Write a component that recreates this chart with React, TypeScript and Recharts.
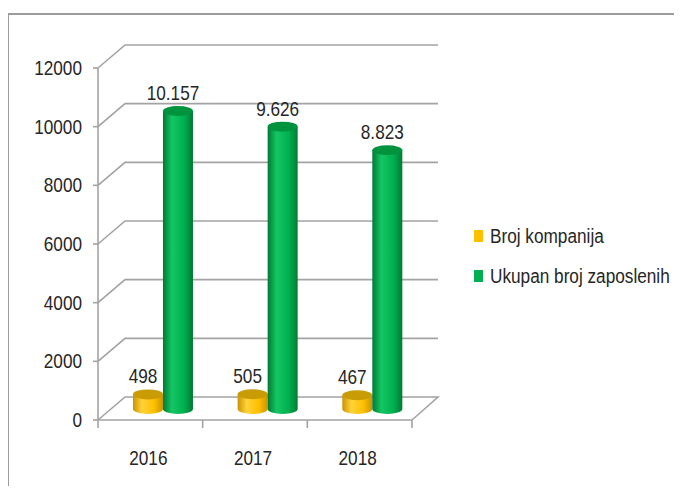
import { BarChart, Bar, XAxis, YAxis, CartesianGrid, LabelList } from 'recharts';

const years = ['2016', '2017', '2018'];
const brojKompanija = [498, 505, 467];
const ukupanBrojZaposlenih = [10157, 9626, 8823];
const yTicks = [0, 2000, 4000, 6000, 8000, 10000, 12000];

const data = years.map((year, i) => ({
  year,
  kompanije: brojKompanija[i],
  zaposleni: ukupanBrojZaposlenih[i],
}));

const W = 674;
const H = 478;
const margin = { top: 60, right: 270, bottom: 26, left: 30 };
const X_AXIS_H = 40;
const Y_AXIS_W = 60;
const PLOT_LEFT = margin.left + Y_AXIS_W;
const PLOT_BOTTOM = H - margin.bottom - X_AXIS_H;
const PLOT_W = W - margin.right - PLOT_LEFT;
const BAND = PLOT_W / years.length;

// 3d depth of the back wall, bars sit half way in
const DEPTH_X = 27;
const DEPTH_Y = -23;
const SHIFT_X = 13;
const SHIFT_Y = -11;

const GRID = '#a3a3a3';
const TEXT = '#262626';
const FONT = "'Liberation Sans', Arial, sans-serif";
const FONT_SIZE = 20;
const SQUEEZE = 0.86; // narrow the glyphs a bit, original used Calibri

const fmt = (v: number) => String(v).replace(/\B(?=(\d{3})+(?!\d))/g, '.');

const palettes: Record<string, { edge: string; light: string; mid: string; cap: string; legend: string }> = {
  kompanije: { edge: '#c99300', light: '#ffd23a', mid: '#ffc000', cap: '#c99b05', legend: '#FFC000' },
  zaposleni: { edge: '#007a33', light: '#14c664', mid: '#00b050', cap: '#00933e', legend: '#00B050' },
};

const NarrowText = ({ x, y, anchor = 'middle', children }: any) => (
  <text
    transform={`translate(${x},${y}) scale(${SQUEEZE},1)`}
    textAnchor={anchor}
    fill={TEXT}
    fontSize={FONT_SIZE}
    fontFamily={FONT}
  >
    {children}
  </text>
);

function cylinder(key: string) {
  const c = palettes[key];
  return (props: any) => {
    const { x, y, width, height, index } = props;
    const left = x + SHIFT_X;
    const top = y + SHIFT_Y;
    const bottom = y + height + SHIFT_Y;
    const rx = width / 2;
    const ry = 5;
    const id = `grad-${key}-${index}`;
    return (
      <g>
        <defs>
          <linearGradient id={id} x1="0" y1="0" x2="1" y2="0">
            <stop offset="0%" stopColor={c.edge} />
            <stop offset="30%" stopColor={c.light} />
            <stop offset="70%" stopColor={c.mid} />
            <stop offset="100%" stopColor={c.edge} />
          </linearGradient>
        </defs>
        <path
          d={`M${left},${top} L${left},${bottom} A${rx},${ry} 0 0 0 ${left + width},${bottom} L${left + width},${top} Z`}
          fill={`url(#${id})`}
        />
        <ellipse cx={left + rx} cy={top} rx={rx} ry={ry} fill={c.cap} />
      </g>
    );
  };
}

const renderValue = (props: any) => {
  const { x, y, width, value } = props;
  return (
    <NarrowText x={x + width / 2 + 8} y={y - 22}>
      {fmt(value)}
    </NarrowText>
  );
};

const gridLine = (p: any) => {
  const isFloor = Math.abs(p.y1 - PLOT_BOTTOM) < 1;
  let d = `M${p.x1},${p.y1} L${p.x1 + DEPTH_X},${p.y1 + DEPTH_Y} L${p.x2 + DEPTH_X - 1},${p.y1 + DEPTH_Y}`;
  if (isFloor) d += ` L${p.x2},${p.y1}`;
  return <path key={p.key} d={d} stroke={GRID} strokeWidth={1.6} fill="none" />;
};

const XTick = (props: any) => {
  const { x, payload, index } = props;
  const l = x - BAND / 2;
  return (
    <g>
      <line x1={l} y1={PLOT_BOTTOM} x2={l} y2={PLOT_BOTTOM + 8} stroke={GRID} strokeWidth={1.6} />
      {index === years.length - 1 && (
        <line x1={x + BAND / 2} y1={PLOT_BOTTOM} x2={x + BAND / 2} y2={PLOT_BOTTOM + 8} stroke={GRID} strokeWidth={1.6} />
      )}
      <NarrowText x={x - 2} y={PLOT_BOTTOM + 45}>
        {payload.value}
      </NarrowText>
    </g>
  );
};

const YTick = (props: any) => {
  const { x, y, payload } = props;
  return (
    <NarrowText x={x} y={y + 7} anchor="end">
      {payload.value}
    </NarrowText>
  );
};

const legendItems = [
  { name: 'Broj kompanija', color: palettes.kompanije.legend },
  { name: 'Ukupan broj zaposlenih', color: palettes.zaposleni.legend },
];

const LegendBox = () => (
  <div style={{ position: 'absolute', left: 466, top: 218, fontFamily: FONT, fontSize: 20, color: TEXT }}>
    {legendItems.map((item) => (
      <div key={item.name} style={{ display: 'flex', alignItems: 'center', height: 20, marginBottom: 20, whiteSpace: 'nowrap' }}>
        <div style={{ width: 9, height: 12, background: item.color, marginRight: 7 }} />
        <span style={{ display: 'inline-block', transform: `scaleX(${SQUEEZE})`, transformOrigin: 'left center' }}>
          {item.name}
        </span>
      </div>
    ))}
  </div>
);

export default function App() {
  return (
    <div style={{ position: 'relative', width: W, height: H, overflow: 'hidden' }}>
      <div
        style={{
          position: 'absolute',
          top: 5,
          left: -1,
          width: 720,
          height: 520,
          borderTop: '2px solid #9c9c9c',
          borderLeft: '2px solid #9c9c9c',
        }}
      />
      <div style={{ position: 'absolute', top: 0, left: 0 }}>
        <BarChart width={W} height={H} data={data} margin={margin} barCategoryGap="21%" barGap={0}>
          <CartesianGrid vertical={false} horizontal={gridLine} />
          <XAxis
            dataKey="year"
            height={X_AXIS_H}
            axisLine={{ stroke: GRID, strokeWidth: 1.6 }}
            tickLine={false}
            tick={<XTick />}
            interval={0}
          />
          <YAxis
            width={Y_AXIS_W}
            domain={[0, 12000]}
            ticks={yTicks}
            interval={0}
            axisLine={{ stroke: GRID, strokeWidth: 1.6 }}
            tickLine={{ stroke: GRID, strokeWidth: 1.6 }}
            tickSize={5}
            tickMargin={11}
            tick={<YTick />}
          />
          <Bar dataKey="kompanije" name="Broj kompanija" fill="#FFC000" isAnimationActive={false} shape={cylinder('kompanije')}>
            <LabelList dataKey="kompanije" content={renderValue} />
          </Bar>
          <Bar dataKey="zaposleni" name="Ukupan broj zaposlenih" fill="#00B050" isAnimationActive={false} shape={cylinder('zaposleni')}>
            <LabelList dataKey="zaposleni" content={renderValue} />
          </Bar>
        </BarChart>
      </div>
      <LegendBox />
    </div>
  );
}
